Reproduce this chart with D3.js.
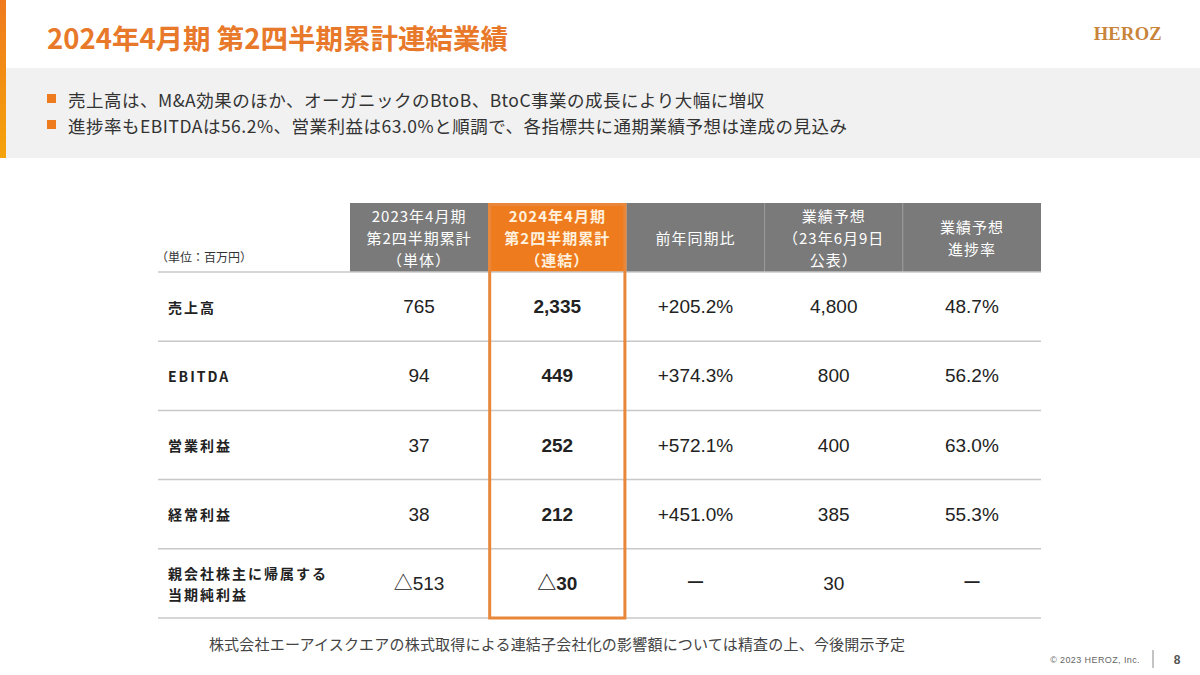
<!DOCTYPE html>
<html lang="ja">
<head>
<meta charset="UTF-8">
<title>2024年4月期 第2四半期累計連結業績</title>
<script src="https://cdn.jsdelivr.net/npm/d3@7"></script>
<style>
  body { margin: 0; background: #fff; }
  svg { display: block; }
</style>
</head>
<body>
<svg id="mainsvg" width="1200" height="675"></svg>
<script>
// ---- data ----
const rowLabels = ["売上高", "EBITDA", "営業利益", "経常利益", "親会社株主に帰属する\n当期純利益"];
const colKeys = ["prev", "curr", "yoy", "forecast", "progress"];
const colHeaders = [
  "2023年4月期\n第2四半期累計\n（単体）",
  "2024年4月期\n第2四半期累計\n（連結）",
  "前年同期比",
  "業績予想\n（23年6月9日\n公表）",
  "業績予想\n進捗率"
];
const prevValues = [765, 94, 37, 38, -513];        // 2023/4 2Q累計（単体）
const currValues = [2335, 449, 252, 212, -30];     // 2024/4 2Q累計（連結）
const yoyValues = [205.2, 374.3, 572.1, 451.0, null];
const forecastValues = [4800, 800, 400, 385, 30];
const progressValues = [48.7, 56.2, 63.0, 55.3, null];

const bullets = [
  "売上高は、M&A効果のほか、オーガニックのBtoB、BtoC事業の成長により大幅に増収",
  "進捗率もEBITDAは56.2%、営業利益は63.0%と順調で、各指標共に通期業績予想は達成の見込み"
];

// ---- formatting ----
const fmtInt = d3.format(",");
const money = v => v < 0 ? "△" + fmtInt(-v) : fmtInt(v);
const pct = v => v == null ? "ー" : d3.format(".1f")(v) + "%";
const signedPct = v => v == null ? "ー" : "+" + d3.format(".1f")(v) + "%";

const columns = {
  prev: prevValues.map(money),
  curr: currValues.map(money),
  yoy: yoyValues.map(signedPct),
  forecast: forecastValues.map(money),
  progress: progressValues.map(pct)
};

const orange = "#EE7B1E";
const jp = "'Noto Sans CJK JP', 'Noto Sans', sans-serif";
const num = "'Liberation Sans', Arial, 'Noto Sans CJK JP', sans-serif";

const svg = d3.select("#mainsvg");

// ---- page frame ----
const grad = svg.append("defs").append("linearGradient")
  .attr("id", "sidebar").attr("x1", 0).attr("y1", 0).attr("x2", 0).attr("y2", 1);
grad.append("stop").attr("offset", "0%").attr("stop-color", "#EF7A1E");
grad.append("stop").attr("offset", "100%").attr("stop-color", "#F5A30A");

svg.append("rect").attr("x", 6).attr("y", 68).attr("width", 1194).attr("height", 90).attr("fill", "#F1F1F1");
svg.append("rect").attr("x", 0).attr("y", 0).attr("width", 6).attr("height", 158).attr("fill", "url(#sidebar)");

svg.append("text").text("2024年4月期 第2四半期累計連結業績")
  .attr("x", 47).attr("y", 49)
  .attr("font-family", jp).attr("font-weight", "bold").attr("font-size", 27.5)
  .attr("fill", "#E8792A");

svg.append("text").text("HEROZ")
  .attr("x", 1162).attr("y", 40).attr("text-anchor", "end")
  .attr("font-family", "'Liberation Serif', 'DejaVu Serif', serif").attr("font-weight", "bold")
  .attr("font-size", 18.5).attr("letter-spacing", 0.3)
  .attr("fill", "#C8843A");

const bulletY = d3.scalePoint().domain(d3.range(bullets.length)).range([99, 125]);
bullets.forEach((b, i) => {
  svg.append("rect").attr("x", 47).attr("y", bulletY(i) - 5).attr("width", 9).attr("height", 9).attr("fill", orange);
  svg.append("text").text(b)
    .attr("x", 68).attr("y", bulletY(i)).attr("dominant-baseline", "central")
    .attr("font-family", jp).attr("font-size", 17.5).attr("letter-spacing", 0.5).attr("fill", "#333");
});

// ---- table ----
const tableLeft = 158, tableRight = 1041;
const headTop = 203, headBottom = 272, tableBottom = 618;

const x = d3.scaleBand().domain(colKeys).range([350, tableRight]);
const y = d3.scaleBand().domain(rowLabels).range([headBottom, tableBottom]);

const g = svg.append("g");

// header cells
g.selectAll("rect.head").data(colKeys).join("rect")
  .attr("class", "head")
  .attr("x", d => x(d)).attr("y", headTop)
  .attr("width", x.bandwidth()).attr("height", headBottom - headTop)
  .attr("fill", d => d === "curr" ? orange : "#7A7A7A");

// separators between gray header cells
g.selectAll("line.hsep").data(colKeys.slice(3)).join("line")
  .attr("class", "hsep")
  .attr("x1", d => x(d)).attr("x2", d => x(d))
  .attr("y1", headTop).attr("y2", headBottom)
  .attr("stroke", "#9A9A9A").attr("stroke-width", 1);

colKeys.forEach((k, i) => {
  const lines = colHeaders[i].split("\n");
  const lh = 22;
  const cy = (headTop + headBottom) / 2;
  const t = g.append("text")
    .attr("text-anchor", "middle")
    .attr("font-family", jp).attr("font-size", 15)
    .attr("font-weight", k === "curr" ? "bold" : "normal")
    .attr("letter-spacing", 1)
    .attr("fill", k === "curr" ? "#FFF1DE" : "#fff");
  lines.forEach((l, j) => {
    t.append("tspan").text(l)
      .attr("x", x(k) + x.bandwidth() / 2)
      .attr("y", cy + (j - (lines.length - 1) / 2) * lh)
      .attr("dominant-baseline", "central");
  });
});

g.append("text").text("（単位：百万円）")
  .attr("x", 156).attr("y", 262)
  .attr("font-family", jp).attr("font-size", 12).attr("fill", "#333");

// row lines
g.selectAll("line.row").data([headBottom].concat(rowLabels.map(r => y(r) + y.bandwidth()))).join("line")
  .attr("class", "row")
  .attr("x1", tableLeft).attr("x2", tableRight)
  .attr("y1", d => d).attr("y2", d => d)
  .attr("stroke", "#C8C8C8").attr("stroke-width", 1.5);

// row labels
rowLabels.forEach(r => {
  const lines = r.split("\n");
  const cy = y(r) + y.bandwidth() / 2;
  const t = g.append("text")
    .attr("font-family", jp).attr("font-size", 14).attr("font-weight", "bold")
    .attr("letter-spacing", 2).attr("fill", "#222");
  lines.forEach((l, j) => {
    t.append("tspan").text(l)
      .attr("x", 168)
      .attr("y", cy + (j - (lines.length - 1) / 2) * 21)
      .attr("dominant-baseline", "central");
  });
});

// values
colKeys.forEach(k => {
  g.selectAll("text.v-" + k).data(columns[k]).join("text")
    .attr("class", "v-" + k)
    .attr("x", x(k) + x.bandwidth() / 2)
    .attr("y", (d, i) => y(rowLabels[i]) + y.bandwidth() / 2)
    .attr("text-anchor", "middle").attr("dominant-baseline", "central")
    .attr("font-family", num).attr("font-size", 19)
    .attr("font-weight", k === "curr" ? "bold" : "normal")
    .attr("fill", "#222")
    .text(d => d);
});

// highlight frame on current column
g.append("rect")
  .attr("x", x("curr") + 1.5).attr("y", headTop + 1.5)
  .attr("width", x.bandwidth() - 3).attr("height", tableBottom - headTop - 1.5)
  .attr("fill", "none").attr("stroke", "#E8873A").attr("stroke-width", 3);

// footnote
svg.append("text").text("株式会社エーアイスクエアの株式取得による連結子会社化の影響額については精査の上、今後開示予定")
  .attr("x", 557).attr("y", 643).attr("text-anchor", "middle").attr("dominant-baseline", "central")
  .attr("font-family", jp).attr("font-size", 15).attr("letter-spacing", 0.2).attr("fill", "#444");

// page footer
svg.append("text").text("© 2023 HEROZ, Inc.")
  .attr("x", 1140).attr("y", 660).attr("text-anchor", "end").attr("dominant-baseline", "central")
  .attr("font-family", num).attr("font-size", 9).attr("letter-spacing", 0.4).attr("fill", "#666");
svg.append("line").attr("x1", 1153).attr("x2", 1153).attr("y1", 650).attr("y2", 668)
  .attr("stroke", "#888").attr("stroke-width", 1);
svg.append("text").text("8")
  .attr("x", 1177).attr("y", 660).attr("text-anchor", "middle").attr("dominant-baseline", "central")
  .attr("font-family", num).attr("font-size", 12).attr("font-weight", "bold").attr("fill", "#555");
</script>
</body>
</html>
